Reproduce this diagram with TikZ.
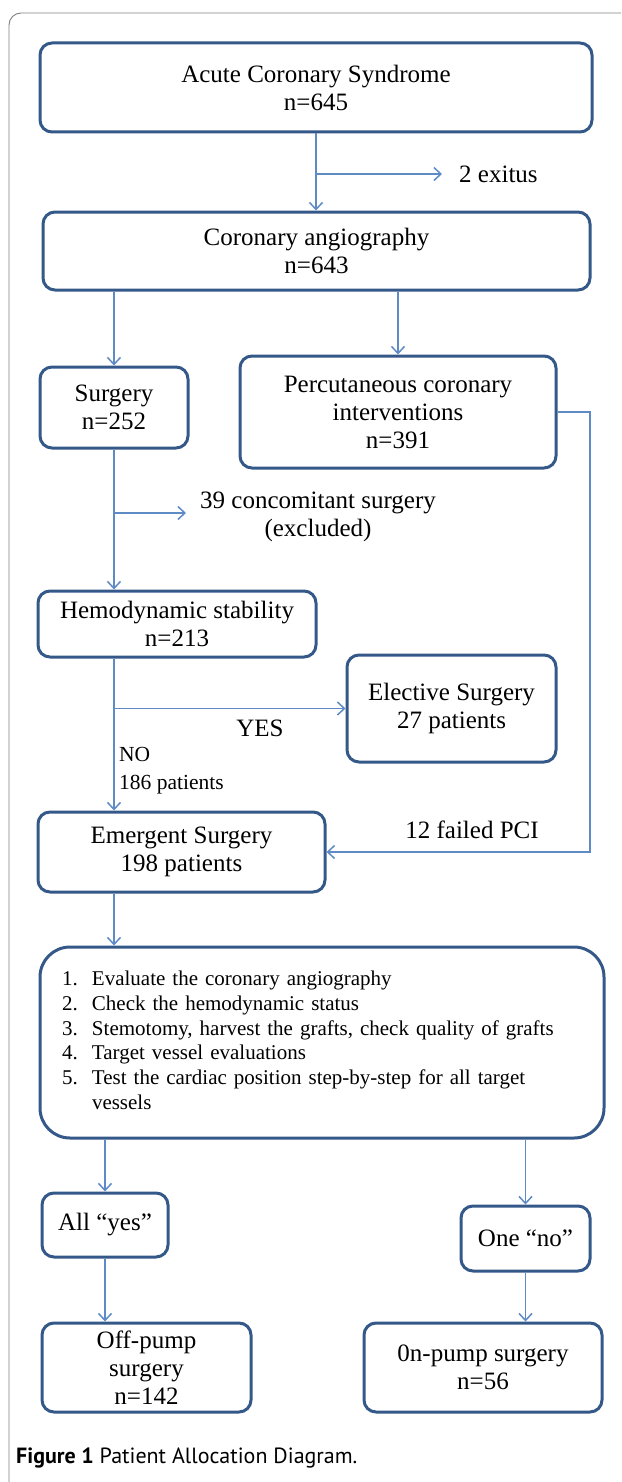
\documentclass[tikz,border=0pt]{standalone}
\usepackage{fontspec}
\setmainfont{Liberation Serif}
\newfontfamily\capfont{PT Sans}
\usetikzlibrary{positioning}
\usetikzlibrary{arrows.meta}
\definecolor{boxblue}{RGB}{52,88,136}
\definecolor{lineblue}{RGB}{94,138,198}
\definecolor{framegray}{RGB}{128,128,128}

\begin{document}
\begin{tikzpicture}[x=1pt,y=-1pt,
 box/.style={draw=boxblue,line width=3pt,rounded corners=12pt,align=center,inner sep=0pt,font=\fontsize{25}{28}\selectfont},
 conn/.style={draw=lineblue,line width=1.5pt,-{Straight Barb[length=7pt,width=13pt,line width=1.5pt]}},
 lbl/.style={inner sep=0pt,align=center,font=\fontsize{25}{28}\selectfont}]
 \useasboundingbox (0,0) rectangle (621,1482);
 % frame of the figure
 \draw[framegray,line width=0.9pt,rounded corners=12pt](621,13)--(9,13)--(9,1482);

 % boxes
 \node[box,minimum width=552pt,minimum height=89pt](acs) at (316,87.5){Acute Coronary Syndrome\\n=645};
 \node[box,minimum width=547pt,minimum height=78pt](angio) at (316.5,251){Coronary angiography\\n=643};
 \node[box,minimum width=148pt,minimum height=81pt](surg) at (114,407.5){Surgery\\n=252};
 \node[box,minimum width=316pt,minimum height=112pt](pci) at (398,412){Percutaneous coronary\\interventions\\n=391};
 \node[box,minimum width=278pt,minimum height=66pt](hemo) at (177,624){Hemodynamic stability\\n=213};
 \node[box,minimum width=209pt,minimum height=107pt](elect) at (451.5,708.5){Elective Surgery\\27 patients};
 \node[box,minimum width=287pt,minimum height=80pt](emerg) at (181.5,852){Emergent Surgery\\198 patients};
 \node[box,rounded corners=30pt,minimum width=564pt,minimum height=191pt,text width=564pt,align=left,
  font=\fontsize{21}{24.8}\selectfont](steps) at (322,1042.5){\hspace*{22pt}\begin{tabular}{@{}p{30pt}@{}l@{}}
  1. & Evaluate the coronary angiography\\
  2. & Check the hemodynamic status\\
  3. & Stemotomy, harvest the grafts, check quality of grafts\\
  4. & Target vessel evaluations\\
  5. & Test the cardiac position step-by-step for all target\\
     & vessels
  \end{tabular}};
 \node[box,minimum width=126pt,minimum height=64pt](yes) at (105,1225){All “yes”};
 \node[box,minimum width=129pt,minimum height=65pt](no) at (525.5,1238.5){One “no”};
 \node[box,minimum width=209pt,minimum height=89pt](off) at (146.5,1367.5){Off-pump\\surgery\\n=142};
 \node[box,minimum width=238pt,minimum height=89pt](on) at (483,1367.5){0n-pump surgery\\n=56};

 % labels
 \node[lbl,anchor=west,inner xsep=17pt](exitus) at (442,174){2 exitus};
 \node[lbl,inner xsep=14pt](excl) at (318,517){39 concomitant surgery\\(excluded)};
 \node[lbl](yeslbl) at (260,728){YES};
 \node[lbl,anchor=west,align=left,font=\fontsize{21.5}{28}\selectfont](nolbl) at (119,771){NO\\186 patients};
 \node[lbl](faillbl) at (472,830){12 failed PCI};
 \node[anchor=base west,inner sep=0pt,font=\capfont\fontsize{22}{26}\selectfont](cap) at (16,1463){\textbf{Figure 1} Patient Allocation Diagram.};

 % connectors
 \coordinate (b1) at (316,174);
 \coordinate (b2) at (114,513);
 \coordinate (b3) at (114,708.5);
 \coordinate (r1) at (590,852);
 \draw[conn](acs.south)--(angio.north -| acs.south);
 \draw[conn](b1)--(exitus.west);
 \draw[conn](angio.south -| surg.north)--(surg.north);
 \draw[conn](angio.south -| pci.north)--(pci.north);
 \draw[conn](surg.south)--(surg.south |- hemo.north);
 \draw[conn](b2)--(b2 -| excl.west);
 \draw[conn](surg.south |- hemo.south)--(surg.south |- emerg.north);
 \draw[conn](b3)--(elect.west);
 \draw[conn](pci.east)-|(r1)--(emerg.east);
 \draw[conn](surg.south |- emerg.south)--(surg.south |- steps.north);
 \draw[conn](steps.south -| yes.north)--(yes.north);
 \draw[conn](steps.south -| no.north)--(no.north);
 \draw[conn](yes.south)--(off.north -| yes.south);
 \draw[conn](no.south)--(on.north -| no.south);
\end{tikzpicture}
\end{document}
